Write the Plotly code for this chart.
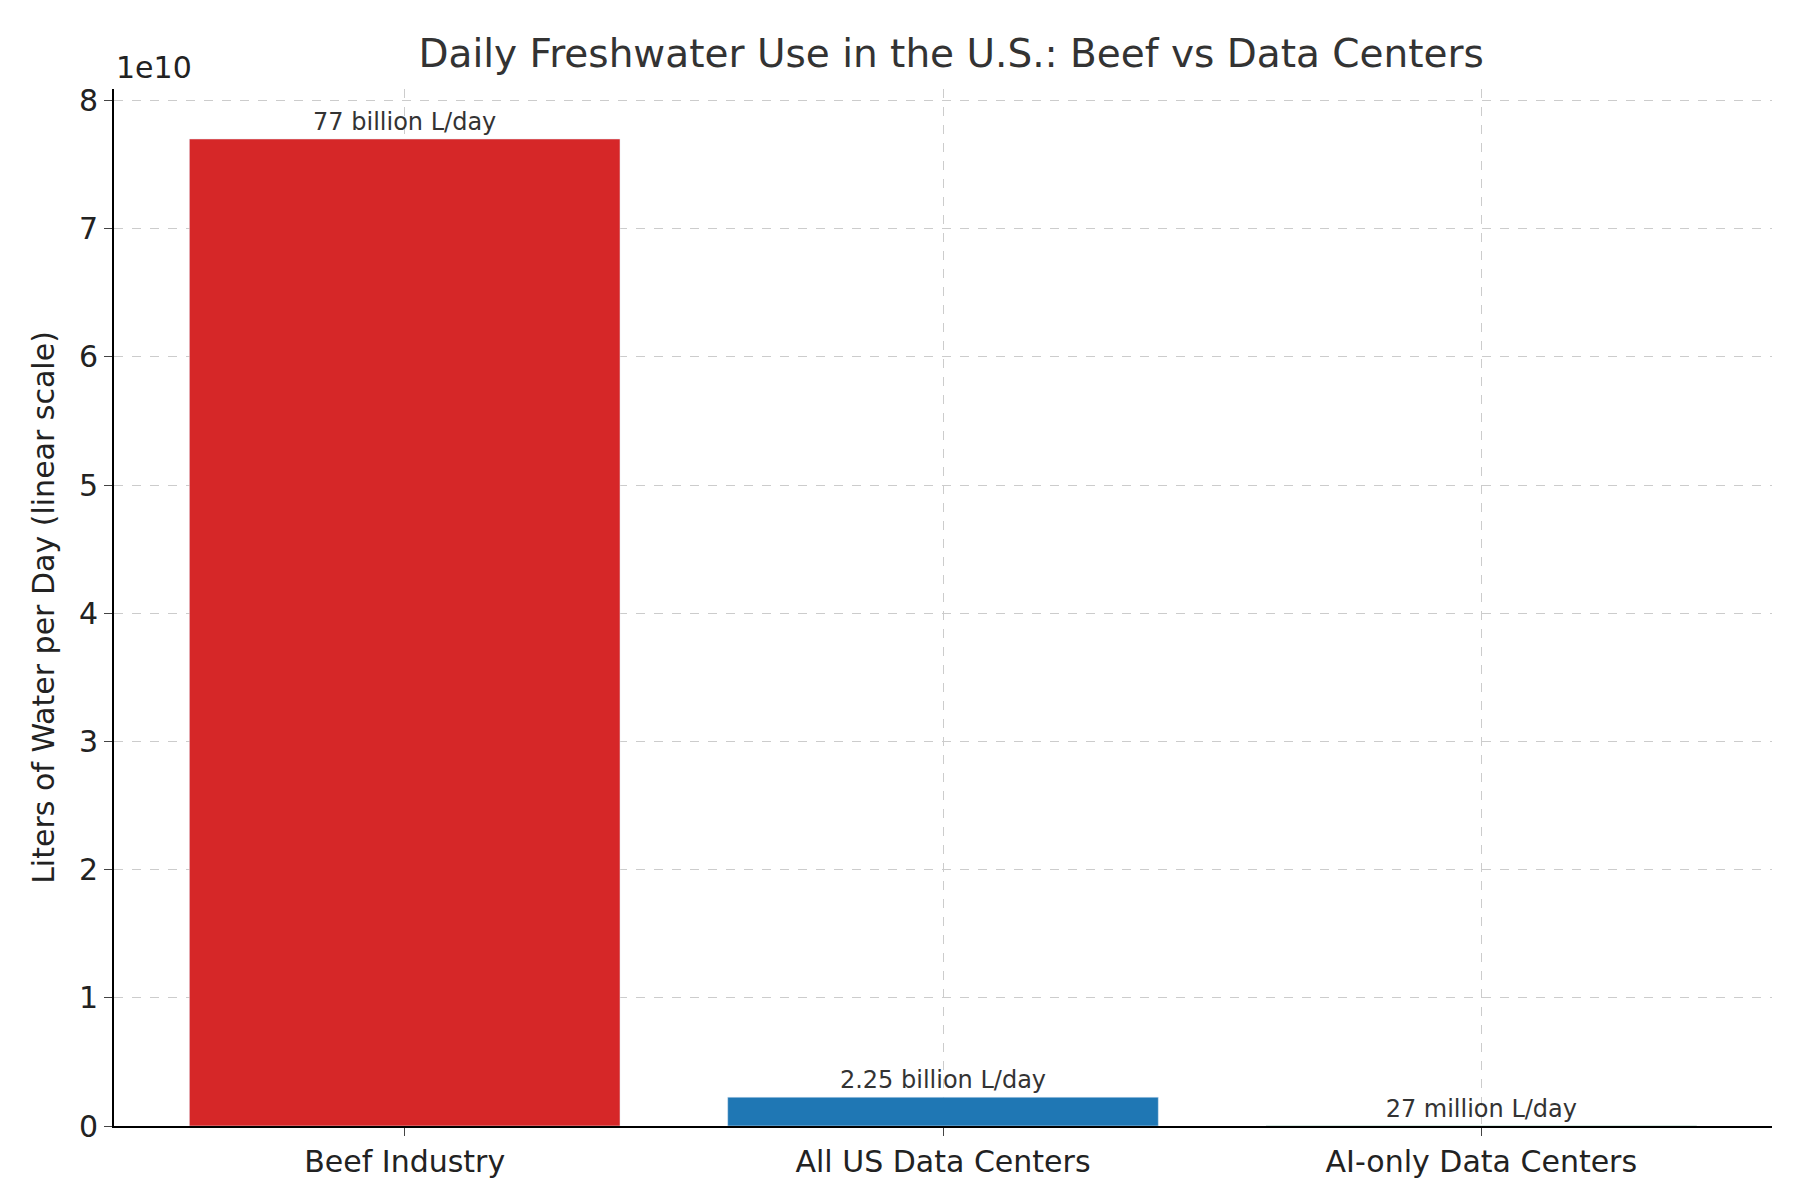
import plotly.graph_objects as go

categories = ["Beef Industry", "All US Data Centers", "AI-only Data Centers"]
values = [77e9, 2.25e9, 27e6]
labels = ["77 billion L/day", "2.25 billion L/day", "27 million L/day"]
colors = ["#d62728", "#1f77b4", "#2ca02c"]
tick_vals = [i * 1e10 for i in range(9)]
tick_text = [str(i) for i in range(9)]

fig = go.Figure(go.Bar(x=categories, y=values, marker_color=colors, width=0.8,
                       text=labels, textposition="outside",
                       textfont=dict(size=24, color="#333333"), cliponaxis=False))
fig.update_layout(
    width=1800, height=1200, plot_bgcolor="white", paper_bgcolor="white",
    font=dict(family="DejaVu Sans", color="#222222"),
    margin=dict(l=106, r=36, t=81, b=82),
    title=dict(text="Daily Freshwater Use in the U.S.: Beef vs Data Centers", x=0.524, xanchor="center",
               y=0.962, yanchor="middle", font=dict(size=39, color="#333333")),
    showlegend=False, bargap=0.2,
)
fig.update_xaxes(range=[-0.54, 2.54], showline=True, linecolor="black", linewidth=2,
                 showgrid=True, gridcolor="#cccccc", griddash="dash", ticks="outside",
                 ticklen=8, tickfont=dict(size=30), layer="above traces")
fig.update_yaxes(range=[0, 8.09e10], tickvals=tick_vals, ticktext=tick_text,
                 showline=True, linecolor="black", linewidth=2, showgrid=True,
                 gridcolor="#cccccc", griddash="dash", ticks="outside", ticklen=8,
                 tickfont=dict(size=30), zeroline=False, layer="above traces",
                 title=dict(text="Liters of Water per Day (linear scale)", font=dict(size=30)))
fig.add_annotation(text="1e10", xref="paper", yref="paper", x=0, y=1, xanchor="left",
                   yanchor="bottom", showarrow=False, font=dict(size=30), yshift=2)
fig.write_html("out.html")
